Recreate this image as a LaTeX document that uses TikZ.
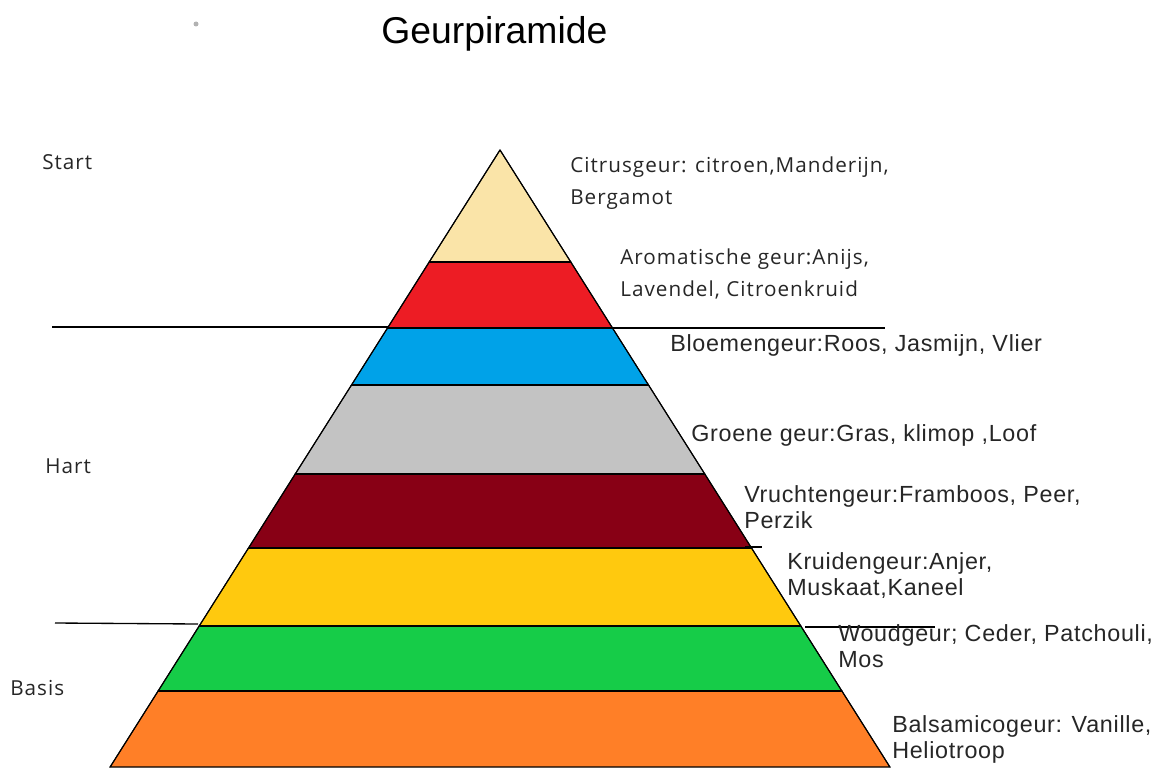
\documentclass[tikz,border=0pt]{standalone}
\usepackage{fontspec}
\setmainfont{Liberation Sans}
\newfontfamily\uifont[LetterSpace=5]{Open Sans}
\newfontfamily\notefont[LetterSpace=3]{Liberation Sans}
\usetikzlibrary{positioning}

\definecolor{cream}{RGB}{250,228,168}
\definecolor{pred}{RGB}{237,28,36}
\definecolor{pblue}{RGB}{0,162,232}
\definecolor{pgrey}{RGB}{195,195,195}
\definecolor{pmaroon}{RGB}{136,0,21}
\definecolor{pyellow}{RGB}{255,201,14}
\definecolor{pgreen}{RGB}{22,204,72}
\definecolor{porange}{RGB}{255,127,39}

\begin{document}
\begin{tikzpicture}[x=0.75pt,y=-0.75pt,
  band/.style={draw=black,line width=0.8pt},
  sep/.style={draw=black,line width=1pt},
  note/.style={anchor=base west,align=left,inner sep=0pt,font=\notefont\fontsize{17.5pt}{19.5pt}\selectfont,text=black!85},
  uinote/.style={note,font=\uifont\fontsize{15.5pt}{24pt}\selectfont},
  side/.style={anchor=base west,inner sep=0pt,font=\uifont\fontsize{15.5pt}{17pt}\selectfont,text=black!85}]
\useasboundingbox (0,0) rectangle (1166,767);
% layers of the pyramid
\fill[band,fill=cream] (500,150) -- (429.2,262) -- (570.8,262) -- cycle;
\fill[band,fill=pred] (429.2,262) -- (387.5,328) -- (612.5,328) -- (570.8,262) -- cycle;
\fill[band,fill=pblue] (387.5,328) -- (351.5,385) -- (648.5,385) -- (612.5,328) -- cycle;
\fill[band,fill=pgrey] (351.5,385) -- (295.2,474) -- (704.8,474) -- (648.5,385) -- cycle;
\fill[band,fill=pmaroon] (295.2,474) -- (248.5,548) -- (751.5,548) -- (704.8,474) -- cycle;
\fill[band,fill=pyellow] (248.5,548) -- (199.2,626) -- (800.8,626) -- (751.5,548) -- cycle;
\fill[band,fill=pgreen] (199.2,626) -- (158.1,691) -- (841.9,691) -- (800.8,626) -- cycle;
\fill[band,fill=porange] (158.1,691) -- (110.1,767) -- (889.9,767) -- (841.9,691) -- cycle;
\draw[band] (500,150) -- (110.1,767) (500,150) -- (889.9,767);
\foreach \yy/\xl/\xr in {262/429.2/570.8,328/387.5/612.5,385/351.5/648.5,474/295.2/704.8,548/248.5/751.5,626/199.2/800.8,691/158.1/841.9}
  \draw[band] (\xl,\yy) -- (\xr,\yy);
% separators
\draw[sep] (52,327) -- (388,327);
\draw[sep] (612,328) -- (885,328);
\draw[sep] (745,547) -- (762,547);
\draw[sep] (55,623) -- (198,624);
\draw[sep] (805,627) -- (935,627);
\fill[black!30] (196,24) circle (2.5);
% labels
\node[anchor=base west,inner sep=0pt,font=\fontsize{28pt}{30pt}\selectfont] (title) at (381,44) {Geurpiramide};
\node[side] (start) at (42,169) {Start};
\node[side] (hart) at (45,473) {Hart};
\node[side] (basis) at (10,695) {Basis};
\node[uinote] (citrus) at (570,204) {Citrusgeur: citroen,Manderijn,\\Bergamot};
\node[uinote] (aroma) at (620,296) {Aromatische geur:Anijs,\\Lavendel, Citroenkruid};
\node[note] (bloem) at (670,351) {Bloemengeur:Roos, Jasmijn, Vlier};
\node[note] (groen) at (691,441) {Groene geur:Gras, klimop ,Loof};
\node[note] (vrucht) at (744,528) {Vruchtengeur:Framboos, Peer,\\Perzik};
\node[note] (kruid) at (787,595) {Kruidengeur:Anjer,\\Muskaat,Kaneel};
\node[note] (woud) at (838,667) {Woudgeur; Ceder, Patchouli,\\Mos};
\node[note] (balsam) at (892,758) {Balsamicogeur: Vanille,\\Heliotroop};
\end{tikzpicture}
\end{document}
